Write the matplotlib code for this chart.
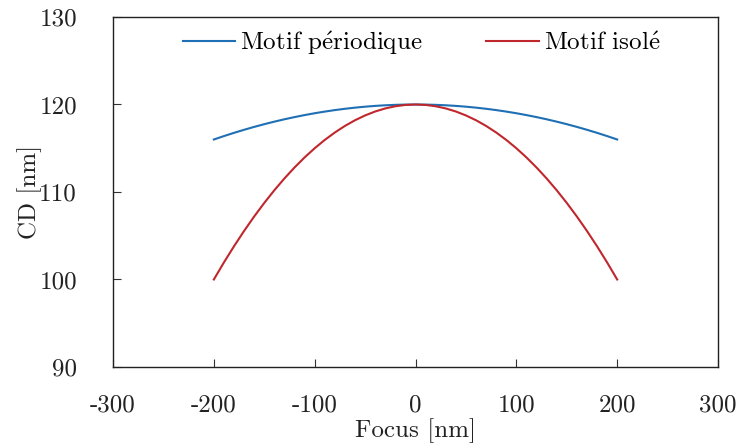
import matplotlib
matplotlib.use("Agg")
import matplotlib.pyplot as plt

# Valeurs (CD en fonction du focus)
focus = [-200, -190, -180, -170, -160, -150, -140, -130, -120, -110, -100,
         -90, -80, -70, -60, -50, -40, -30, -20, -10, 0,
         10, 20, 30, 40, 50, 60, 70, 80, 90, 100,
         110, 120, 130, 140, 150, 160, 170, 180, 190, 200]
cd_periodique = [116.0, 116.39, 116.76, 117.11, 117.44, 117.75, 118.04, 118.31, 118.56, 118.79, 119.0,
                 119.19, 119.36, 119.51, 119.64, 119.75, 119.84, 119.91, 119.96, 119.99, 120.0,
                 119.99, 119.96, 119.91, 119.84, 119.75, 119.64, 119.51, 119.36, 119.19, 119.0,
                 118.79, 118.56, 118.31, 118.04, 117.75, 117.44, 117.11, 116.76, 116.39, 116.0]
cd_isole = [100.0, 101.95, 103.8, 105.55, 107.2, 108.75, 110.2, 111.55, 112.8, 113.95, 115.0,
            115.95, 116.8, 117.55, 118.2, 118.75, 119.2, 119.55, 119.8, 119.95, 120.0,
            119.95, 119.8, 119.55, 119.2, 118.75, 118.2, 117.55, 116.8, 115.95, 115.0,
            113.95, 112.8, 111.55, 110.2, 108.75, 107.2, 105.55, 103.8, 101.95, 100.0]

x_ticks = [-300, -200, -100, 0, 100, 200, 300]
y_ticks = [90, 100, 110, 120, 130]

plt.rcParams['font.family'] = ['cmr10', 'DejaVu Serif']
plt.rcParams['mathtext.fontset'] = 'cm'
plt.rcParams['axes.unicode_minus'] = False
plt.rcParams['font.size'] = 18

fig = plt.figure(figsize=(7.41, 4.45), dpi=100)
ax = fig.add_axes([0.1525, 0.1753, 0.8165, 0.7865])

ax.plot(focus, cd_periodique, color='#1f6fb4', lw=1.5,
        label=r'Motif p$\mathrm{\acute{e}}$riodique')
ax.plot(focus, cd_isole, color='#c0272d', lw=1.5,
        label=r'Motif isol$\mathrm{\acute{e}}$')

ax.set_xlim(-300, 300)
ax.set_ylim(90, 130)
ax.set_xticks(x_ticks)
ax.set_yticks(y_ticks)
ax.set_xticklabels([str(v) for v in x_ticks])
ax.set_yticklabels([str(v) for v in y_ticks])
ax.tick_params(direction='in', length=6, width=0.8, color='#333333',
               labelcolor='#222222')
ax.tick_params(axis='x', pad=20)
ax.tick_params(axis='y', pad=26)
for s in ax.spines.values():
    s.set_color('#222222')
    s.set_linewidth(1.0)

ax.set_xlabel('Focus [nm]', labelpad=1, color='#222222')
ax.set_ylabel('CD [nm]', labelpad=-2, color='#222222')

ax.legend(loc='upper center', ncol=2, frameon=False, handlelength=2.1,
          columnspacing=2.55, handletextpad=0.2, bbox_to_anchor=(0.51, 1.03))

fig.savefig('out.png', dpi=100)
